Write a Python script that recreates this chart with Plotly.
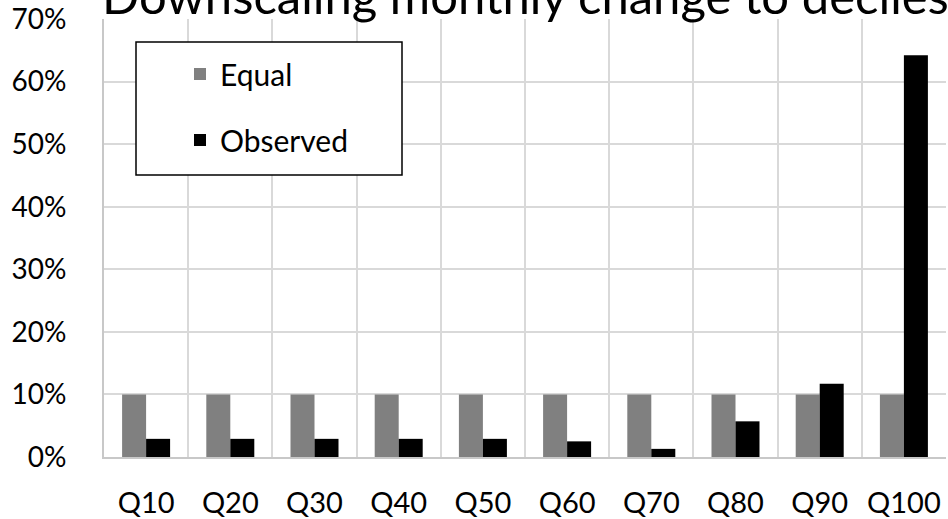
import plotly.graph_objects as go

# Decile categories and share of monthly change in each
deciles = ["Q10", "Q20", "Q30", "Q40", "Q50", "Q60", "Q70", "Q80", "Q90", "Q100"]
equal_share = [0.10, 0.10, 0.10, 0.10, 0.10, 0.10, 0.10, 0.10, 0.10, 0.10]
observed_share = [0.029, 0.029, 0.029, 0.029, 0.029, 0.025, 0.013, 0.057, 0.117, 0.642]
y_ticks = [0, 0.1, 0.2, 0.3, 0.4, 0.5, 0.6, 0.7]

W, H = 948, 519
L, R, T, B = 104, 2, 19, 62
pw, ph = W - L - R, H - T - B


def px_x(x):
    return (x - L) / pw


def px_y(y):
    return (H - B - y) / ph


FONT = "Lato"

fig = go.Figure()
fig.add_trace(go.Bar(x=deciles, y=equal_share, name="Equal", marker_color="#808080",
                     marker_line_width=0, legendgroup="a"))
fig.add_trace(go.Bar(x=deciles, y=observed_share, name="Observed", marker_color="#000000",
                     marker_line_width=0, legendgroup="b"))

# legend frame
fig.add_shape(type="rect", xref="paper", yref="paper",
              x0=px_x(136), x1=px_x(402), y0=px_y(175), y1=px_y(42),
              fillcolor="white", line=dict(color="black", width=1.5), layer="above")

fig.add_annotation(text="Downscaling monthly change to deciles", xref="paper", yref="paper",
                   x=px_x(525), y=px_y(26), xanchor="center", yanchor="bottom",
                   showarrow=False, font=dict(family=FONT, size=49, color="black"))

fig.update_layout(
    width=W, height=H,
    margin=dict(l=L, r=R, t=T, b=B, pad=0),
    paper_bgcolor="white", plot_bgcolor="white",
    barmode="group", bargap=0.43, bargroupgap=0,
    font=dict(family=FONT, color="black"),
    showlegend=True,
    legend=dict(x=px_x(180), y=px_y(48), xanchor="left", yanchor="top",
                bgcolor="rgba(0,0,0,0)", borderwidth=0,
                font=dict(family=FONT, size=30, color="black"),
                traceorder="grouped", tracegroupgap=24),
    xaxis=dict(type="category", tickson="boundaries", showgrid=True,
               gridcolor="#d9d9d9", gridwidth=2, showline=True, linecolor="#c8c8c8",
               linewidth=2, ticks="", tickangle=0, automargin=False,
               tickfont=dict(family=FONT, size=29, color="black"),
               ticklabelstandoff=19),
    yaxis=dict(range=[0, 0.7], tickvals=y_ticks, tickformat=".0%", showgrid=True,
               gridcolor="#d9d9d9", gridwidth=2, showline=True, linecolor="#c8c8c8",
               linewidth=2, ticks="", zeroline=False, automargin=False,
               tickfont=dict(family=FONT, size=28, color="black"), ticklabelstandoff=30),
)

fig.write_html("out.html")
